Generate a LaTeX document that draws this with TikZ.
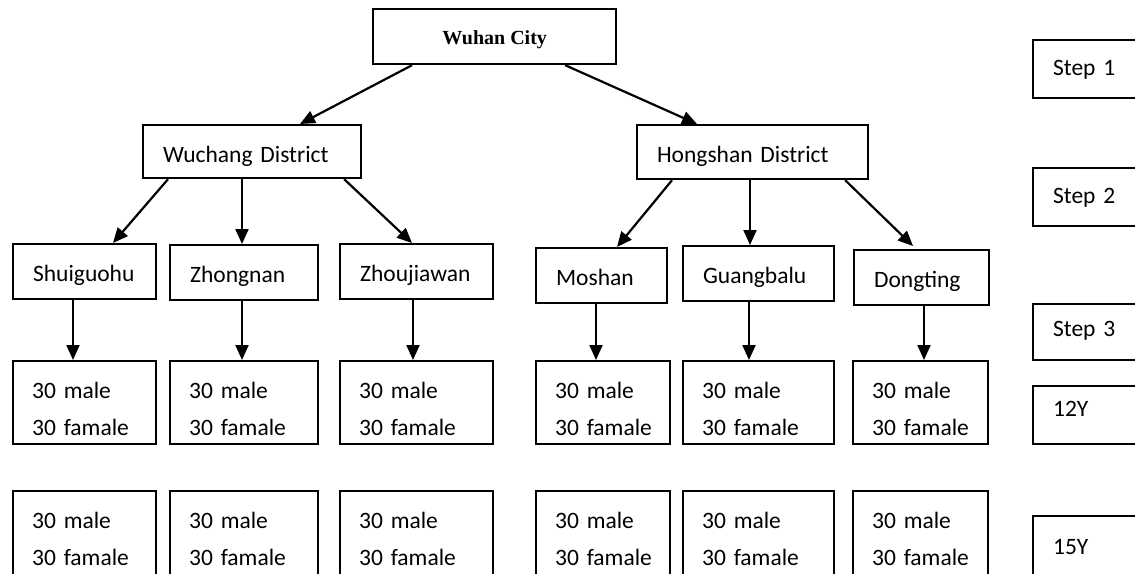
\documentclass[tikz,border=0pt]{standalone}
\usepackage{fontspec}
\setmainfont{Carlito}
\newfontfamily\cityfont{Liberation Serif}
\usetikzlibrary{arrows.meta}
\hyphenpenalty=10000
\tikzset{
  box/.style={draw, line width=2.2pt, inner sep=0pt, anchor=north west},
  placebox/.style={box, inner xsep=20pt, align=left, text height=37pt, text depth=18pt,
    font=\fontsize{23.5}{28}\selectfont},
  cell/.style={box, inner xsep=19pt, align=left, text height=37pt, text depth=46pt,
    font=\fontsize{23.5}{37}\selectfont},
  stepbox/.style={box, inner xsep=20pt, align=left, text width=90pt, text height=35pt, text depth=23pt,
    font=\fontsize{23.5}{28}\selectfont},
  arr/.style={line width=2.2pt, -{Triangle[length=15pt,width=13pt]}}
}
\begin{document}
\begin{tikzpicture}[x=1pt,y=-1pt]
\useasboundingbox (0,0) rectangle (1135,573);
\clip (0,0) rectangle (1135,573);
% city and districts
\node[box, minimum width=243pt, text height=35pt, text depth=20pt,
  font=\cityfont\bfseries\fontsize{20}{24}\selectfont] (city) at (372,8) {Wuhan City};
\node[placebox, text depth=16pt, text width=178pt] (wuchang) at (142,124) {Wuchang District};
\node[placebox, text depth=17pt, text width=191pt] (hongshan) at (636,124) {Hongshan District};
% communities
\node[placebox, text width=103pt] (shui) at (12,243) {Shuiguohu};
\node[placebox, text width=108pt] (zhong) at (169,244) {Zhongnan};
\node[placebox, text width=113pt] (zhou) at (339,243) {Zhoujiawan};
\node[placebox, text width=91pt] (mosh) at (535,247) {Moshan};
\node[placebox, text width=111pt] (guang) at (682,245) {Guangbalu};
\node[placebox, text width=95pt] (dong) at (853,249) {Dongting};
% samples, 12Y and 15Y
\foreach \i/\x/\w in {1/12/143,2/169/148,3/339/153,4/535/134,5/682/151,6/852/135} {
  \node[cell, text width=\w-38] (a\i) at (\x,360) {30~male\\30~famale};
  \node[cell, text depth=60pt, text width=\w-38] (b\i) at (\x,490) {30~male\\30~famale};
}
% steps
\node[stepbox] (s1) at (1032,39) {Step 1};
\node[stepbox] (s2) at (1032,167) {Step 2};
\node[stepbox, text height=32pt, text depth=24pt] (s3) at (1032,303) {Step 3};
\node[stepbox, text height=30pt, text depth=28pt] (y12) at (1032,385) {12Y};
\node[stepbox, text height=38pt, text depth=40pt] (y15) at (1032,515) {15Y};
% arrows
\draw[arr] ([xshift=40]city.south west) -- ([xshift=158]wuchang.north west);
\draw[arr] ([xshift=-52]city.south east) -- ([xshift=61]hongshan.north west);
\draw[arr] ([xshift=26]wuchang.south west) -- ([xshift=101]shui.north west);
\draw[arr] ([xshift=100]wuchang.south west) -- ([xshift=73]zhong.north west);
\draw[arr] ([xshift=-18]wuchang.south east) -- ([xshift=73]zhou.north west);
\draw[arr] ([xshift=36]hongshan.south west) -- ([xshift=82]mosh.north west);
\draw[arr] ([xshift=114]hongshan.south west) -- ([xshift=68]guang.north west);
\draw[arr] ([xshift=-24]hongshan.south east) -- ([xshift=60,yshift=3]dong.north west);
\draw[arr] ([xshift=61]shui.south west) -- ([xshift=61]a1.north west);
\draw[arr] ([xshift=73]zhong.south west) -- ([xshift=73]a2.north west);
\draw[arr] ([xshift=74]zhou.south west) -- ([xshift=74]a3.north west);
\draw[arr] ([xshift=61]mosh.south west) -- ([xshift=61]a4.north west);
\draw[arr] ([xshift=67]guang.south west) -- ([xshift=67]a5.north west);
\draw[arr] ([xshift=71]dong.south west) -- ([xshift=72]a6.north west);
\end{tikzpicture}
\end{document}
